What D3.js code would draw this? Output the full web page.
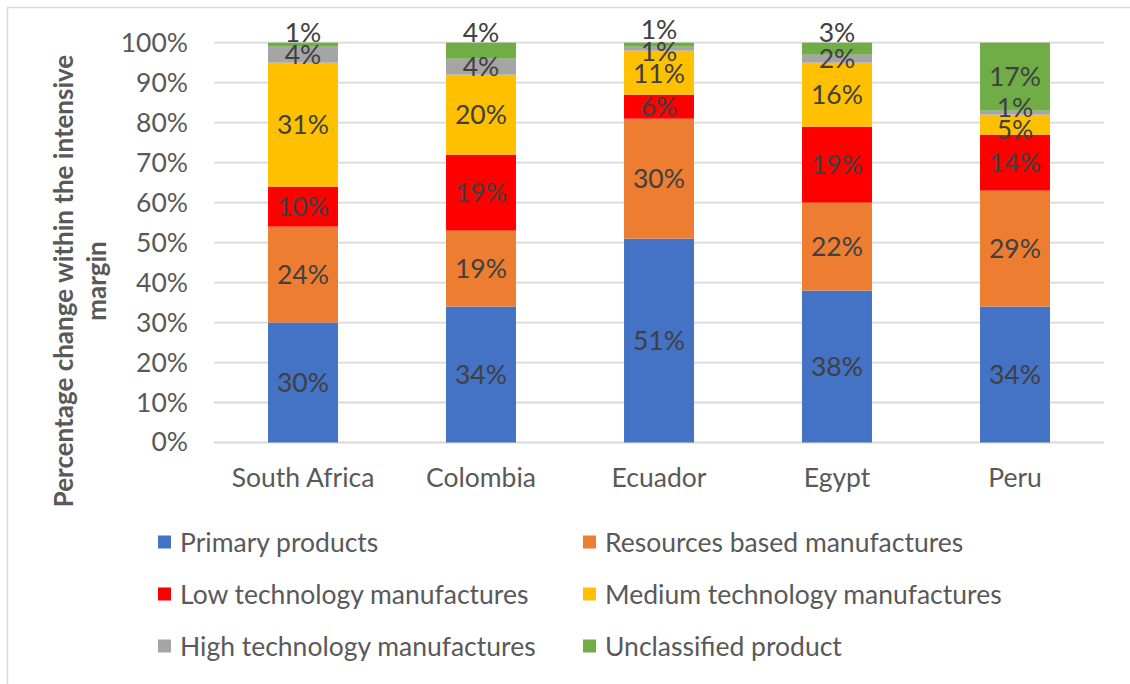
<!DOCTYPE html>
<html>
<head>
<meta charset="utf-8">
<script src="https://cdn.jsdelivr.net/npm/d3@7"></script>
<style>
  html, body { margin: 0; padding: 0; background: #fff; }
  svg { display: block; }
  text { font-family: Lato, "Open Sans", sans-serif; }
</style>
</head>
<body>
<svg id="chart" width="1130" height="684"></svg>
<script>
// Share of the change within the intensive margin, by product group (%)
const categories = ["South Africa", "Colombia", "Ecuador", "Egypt", "Peru"];
const seriesNames = [
  "Primary products",
  "Resources based manufactures",
  "Low technology manufactures",
  "Medium technology manufactures",
  "High technology manufactures",
  "Unclassified product"
];
const primaryProducts     = [30, 34, 51, 38, 34];
const resourcesBased      = [24, 19, 30, 22, 29];
const lowTechnology       = [10, 19,  6, 19, 14];
const mediumTechnology    = [31, 20, 11, 16,  5];
const highTechnology      = [ 4,  4,  1,  2,  1];
const unclassifiedProduct = [ 1,  4,  1,  3, 17];
const yTickValues = [0, 10, 20, 30, 40, 50, 60, 70, 80, 90, 100];
const colors = ["#4472C4", "#ED7D31", "#FF0000", "#FFC000", "#A5A5A5", "#70AD47"];

const seriesValues = [primaryProducts, resourcesBased, lowTechnology,
                      mediumTechnology, highTechnology, unclassifiedProduct];
const rows = categories.map((c, i) => {
  const r = { category: c };
  seriesNames.forEach((s, j) => { r[s] = seriesValues[j][i]; });
  return r;
});

const svg = d3.select("#chart");
const W = 1130, H = 684;
const textSize = "26.5px";

// outer frame
svg.append("rect")
  .attr("x", 7.5).attr("y", 7.5)
  .attr("width", W + 20).attr("height", H + 20)
  .attr("fill", "none").attr("stroke", "#d9d9d9").attr("stroke-width", 1.5);

const x = d3.scaleBand()
  .domain(categories)
  .range([214, 1104])
  .paddingInner(0.607)
  .paddingOuter(0.3035);

const y = d3.scaleLinear().domain([0, 100]).range([442.5, 42.7]);

// gridlines
svg.append("g")
  .selectAll("line")
  .data(yTickValues)
  .join("line")
  .attr("x1", 214).attr("x2", 1104)
  .attr("y1", d => y(d)).attr("y2", d => y(d))
  .attr("stroke", "#d9d9d9").attr("stroke-width", 1.8);

// y axis labels
const yAxis = d3.axisLeft(y).tickValues(yTickValues).tickFormat(d => d + "%").tickSize(0).tickPadding(0);
const gy = svg.append("g").attr("transform", "translate(188,0)").call(yAxis);
gy.select(".domain").remove();
gy.selectAll("text")
  .attr("fill", "#595959")
  .style("font-size", textSize)
  .style("font-family", "Lato, sans-serif");

// x axis labels
const xAxis = d3.axisBottom(x).tickSize(0).tickPadding(0);
const gx = svg.append("g").attr("transform", "translate(0,468)").call(xAxis);
gx.select(".domain").remove();
gx.selectAll("text")
  .attr("fill", "#595959")
  .attr("dy", "0.71em")
  .style("font-size", textSize)
  .style("font-family", "Lato, sans-serif");

// stacked bars
const stack = d3.stack().keys(seriesNames);
const layers = stack(rows);

svg.append("g")
  .selectAll("g")
  .data(layers)
  .join("g")
  .attr("fill", (d, i) => colors[i])
  .selectAll("rect")
  .data(d => d)
  .join("rect")
  .attr("x", d => x(d.data.category))
  .attr("width", x.bandwidth())
  .attr("y", d => y(d[1]))
  .attr("height", d => y(d[0]) - y(d[1]));

// data labels, nudged apart where they would collide
const labelGap = 22;
const labels = [];
categories.forEach((c, ci) => {
  const items = layers.map((layer, si) => {
    const seg = layer[ci];
    const top = y(seg[1]), bottom = y(seg[0]);
    return { category: c, value: seg[1] - seg[0], cy: (top + bottom) / 2, h: bottom - top, top };
  });
  // topmost segment too thin for its label: label sits above the bar
  const last = items[items.length - 1];
  if (last.h < 17) last.cy = last.top - 10;
  // sort top-to-bottom and relax overlaps
  const ordered = items.slice().sort((a, b) => a.cy - b.cy);
  for (let iter = 0; iter < 30; iter++) {
    let moved = false;
    for (let k = 0; k < ordered.length - 1; k++) {
      const a = ordered[k], b = ordered[k + 1];
      const d = b.cy - a.cy;
      if (d < labelGap) {
        const push = (labelGap - d) / 2;
        a.cy -= push; b.cy += push; moved = true;
      }
    }
    if (!moved) break;
  }
  items.forEach(it => labels.push(it));
});

svg.append("g")
  .selectAll("text")
  .data(labels)
  .join("text")
  .attr("x", d => x(d.category) + x.bandwidth() / 2)
  .attr("y", d => d.cy)
  .attr("dy", "0.36em")
  .attr("text-anchor", "middle")
  .attr("fill", "#404040")
  .style("font-size", textSize)
  .text(d => d3.format(".0f")(d.value) + "%");

// y axis title
const title = svg.append("text")
  .attr("transform", "translate(73,281) rotate(-90)")
  .attr("text-anchor", "middle")
  .attr("fill", "#595959")
  .style("font-size", "26px")
  .style("font-weight", "bold");
title.append("tspan").attr("x", 0).attr("y", 0).text("Percentage change within the intensive");
title.append("tspan").attr("x", 0).attr("y", 33).text("margin");

// legend
const legendCols = [158, 583];
const legendRows = [542, 594, 646];
const legend = svg.append("g")
  .selectAll("g")
  .data(seriesNames)
  .join("g")
  .attr("transform", (d, i) => `translate(${legendCols[i % 2]},${legendRows[Math.floor(i / 2)]})`);
legend.append("rect")
  .attr("x", 0).attr("y", -6.5)
  .attr("width", 13).attr("height", 13)
  .attr("fill", (d, i) => colors[i]);
legend.append("text")
  .attr("x", 22).attr("y", 0).attr("dy", "0.36em")
  .attr("fill", "#595959")
  .style("font-size", textSize)
  .text(d => d);
</script>
</body>
</html>
